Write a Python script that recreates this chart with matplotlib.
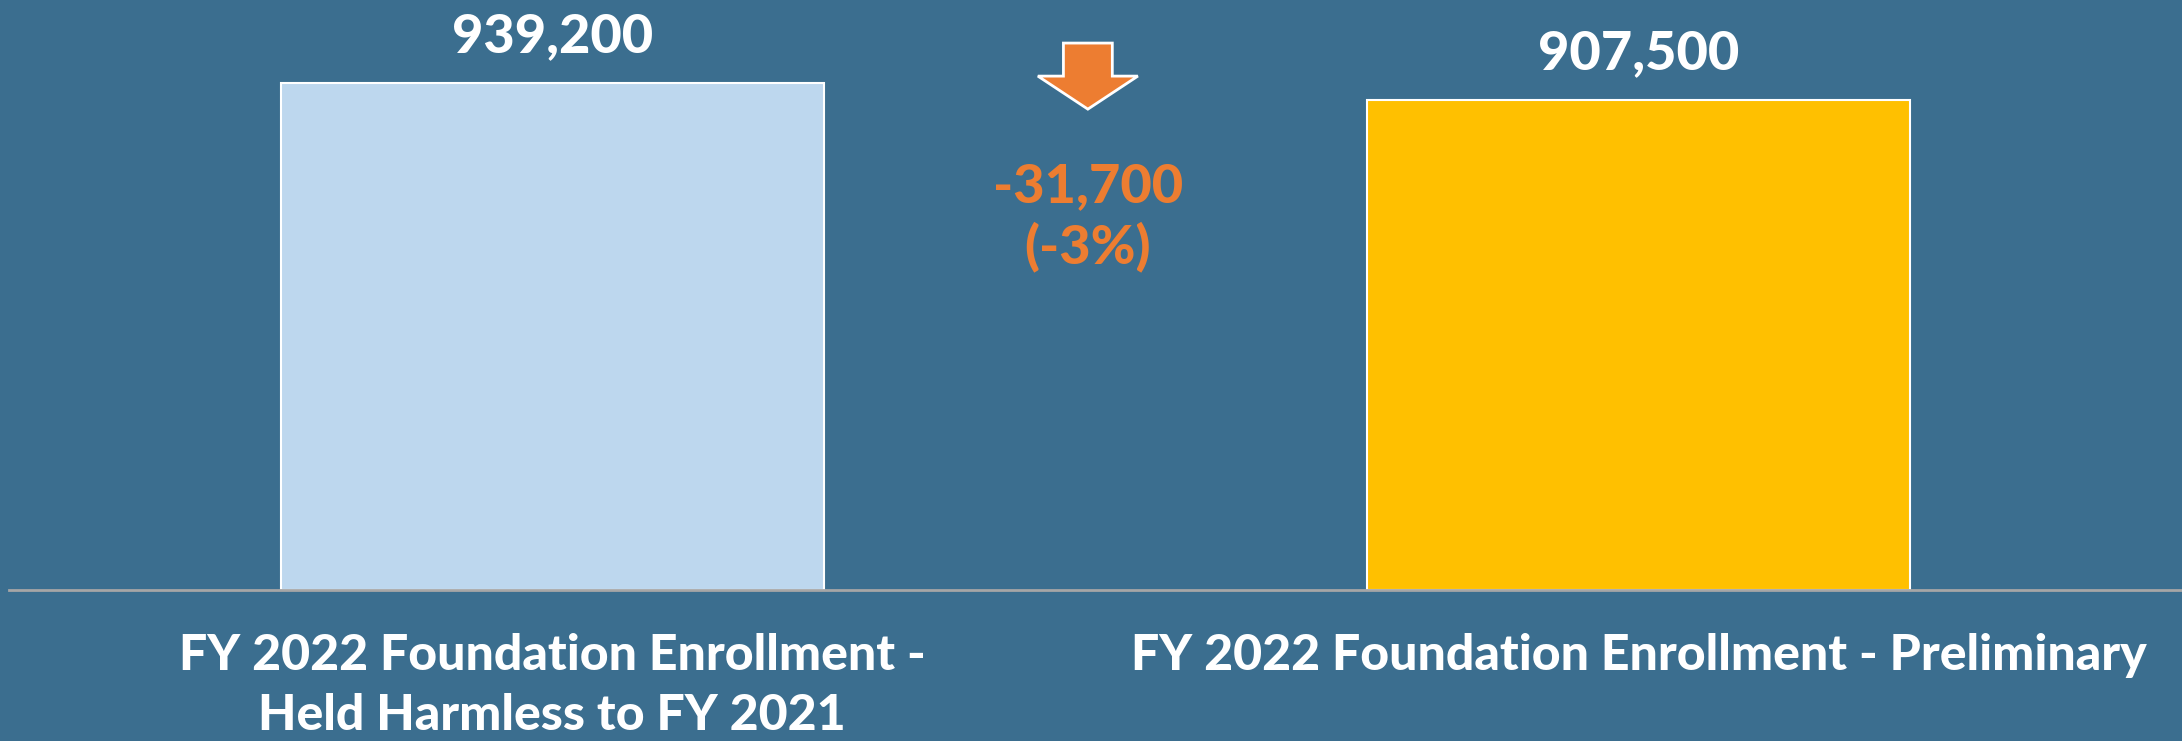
import matplotlib.pyplot as plt
from matplotlib.patches import FancyArrow

categories = ['FY 2022 Foundation Enrollment -\nHeld Harmless to FY 2021',
              'FY 2022 Foundation Enrollment - Preliminary']
enrollment = [939200, 907500]
bar_colors = ['#BDD7EE', '#FFC000']
change_label = '-31,700\n(-3%)'

bg = '#3B6E8F'
orange = '#ED7D31'

plt.rcParams['font.family'] = ['Lato', 'DejaVu Sans']

fig = plt.figure(figsize=(21.82, 7.41), dpi=100, facecolor=bg)
ax = fig.add_axes([0.0041, 0.2038, 0.9959, 0.7962])
ax.set_facecolor(bg)

x = range(len(enrollment))
bars = ax.bar(x, enrollment, width=0.5, color=bar_colors, edgecolor='white', linewidth=1.5, zorder=2)
ax.set_xlim(-0.5, 1.5)
ax.set_ylim(0, 1093000)

for b, v in zip(bars, enrollment):
    ax.annotate(f'{v:,}', (b.get_x() + b.get_width() / 2, v), xytext=(0, 22),
                textcoords='offset points', ha='center', va='baseline',
                fontsize=39, fontweight='black', color='white')

# the drop arrow + label
arrow = FancyArrow(0.4965, 0.927, 0, -0.112, width=0.0225, head_width=0.046,
                   head_length=0.056, length_includes_head=True,
                   facecolor=orange, edgecolor='white', linewidth=2,
                   transform=ax.transAxes, zorder=3)
ax.add_patch(arrow)
ax.text(0.4965, 0.632, change_label, transform=ax.transAxes, ha='center', va='center',
        fontsize=39, fontweight='black', color=orange, linespacing=1.25)

ax.set_xticks(list(x))
ax.set_xticklabels(categories, fontsize=36, fontweight='black', color='white',
                   va='top', multialignment='center', linespacing=1.4)
ax.tick_params(axis='x', length=0, pad=31)
ax.set_yticks([])
for s in ['top', 'right', 'left']:
    ax.spines[s].set_visible(False)
ax.spines['bottom'].set_color('#A6A6A6')
ax.spines['bottom'].set_linewidth(2)

fig.savefig('out.png', dpi=100, facecolor=bg)
